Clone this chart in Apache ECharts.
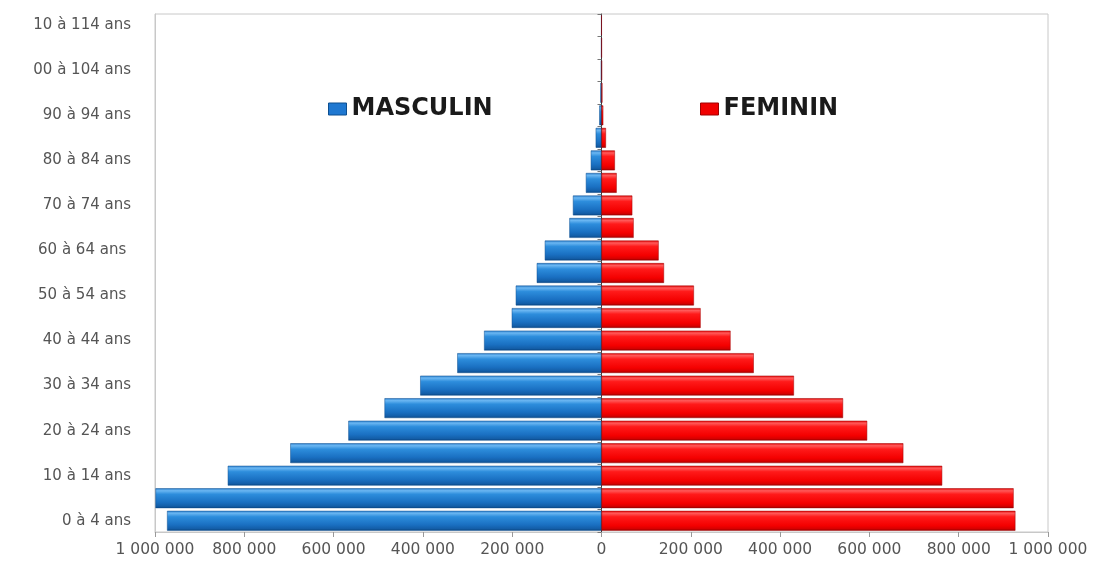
<!DOCTYPE html>
<html>
<head>
<meta charset="utf-8">
<script src="https://cdn.jsdelivr.net/npm/echarts@6/dist/echarts.min.js"></script>
<style>
html,body{margin:0;padding:0;background:#fff;}
#chart{width:1102px;height:563px;}
</style>
</head>
<body>
<div id="chart"></div>
<script>
const categories = [
  "0 à 4 ans", "5 à 9 ans", "10 à 14 ans", "15 à 19 ans", "20 à 24 ans",
  "25 à 29 ans", "30 à 34 ans", "35 à 39 ans", "40 à 44 ans", "45 à 49 ans",
  "50 à 54 ans ", "55 à 59 ans", "60 à 64 ans ", "65 à 69 ans", "70 à 74 ans",
  "75 à 79 ans", "80 à 84 ans", "85 à 89 ans", "90 à 94 ans", "95 à 99 ans",
  "00 à 104 ans", "05 à 109 ans", "10 à 114 ans"
];
const masculin = [973000, 999000, 837000, 697000, 567000, 486000, 406000, 323000, 263000, 201000,
  192000, 145000, 127000, 72000, 64000, 35000, 24000, 13000, 5000, 2500, 1200, 600, 300];
const feminin = [927000, 923000, 763000, 676000, 595000, 541000, 431000, 341000, 289000, 222000,
  207000, 140000, 128000, 72000, 69000, 34000, 30000, 10000, 4000, 2000, 1000, 500, 200];
const seriesNames = ["MASCULIN", "FEMININ"];

const fmt = v => Math.abs(v).toString().replace(/\B(?=(\d{3})+(?!\d))/g, ' ');

const blueGrad = new echarts.graphic.LinearGradient(0, 0, 0, 1, [
  {offset: 0, color: '#2c7fcc'},
  {offset: 0.12, color: '#6ab6f2'},
  {offset: 0.3, color: '#2d8ddc'},
  {offset: 0.7, color: '#1a70c2'},
  {offset: 0.9, color: '#135ea8'},
  {offset: 1, color: '#0b4682'}
]);
const redGrad = new echarts.graphic.LinearGradient(0, 0, 0, 1, [
  {offset: 0, color: '#e00000'},
  {offset: 0.12, color: '#ff5a5a'},
  {offset: 0.3, color: '#ff1a1a'},
  {offset: 0.75, color: '#f40000'},
  {offset: 0.9, color: '#d80000'},
  {offset: 1, color: '#990000'}
]);

const legendText = {fontFamily: 'DejaVu Sans', fontWeight: 'bold', fontSize: 24, color: '#1a1a1a'};

const chart = echarts.init(document.getElementById('chart'), null, {renderer: 'canvas'});
chart.setOption({
  animation: false,
  backgroundColor: '#ffffff',
  legend: [
    {data: [{name: seriesNames[0], icon: 'rect', itemStyle: {color: '#1f78d1', borderColor: '#0d4f90', borderWidth: 1}}],
     left: 328, top: 97, padding: 0, itemWidth: 18, itemHeight: 12, textStyle: legendText},
    {data: [{name: seriesNames[1], icon: 'rect', itemStyle: {color: '#f00000', borderColor: '#a00000', borderWidth: 1}}],
     left: 700, top: 97, padding: 0, itemWidth: 18, itemHeight: 12, textStyle: legendText}
  ],
  grid: {left: 155, right: 54, top: 14, bottom: 31, show: true, borderColor: '#c8c8c8', borderWidth: 1},
  xAxis: {
    type: 'value', min: -1000000, max: 1000000, interval: 200000,
    splitLine: {show: false},
    axisLine: {show: true, onZero: false, lineStyle: {color: '#c8c8c8'}},
    axisTick: {show: true, length: 5, lineStyle: {color: '#999'}},
    axisLabel: {formatter: fmt, color: '#555', fontFamily: 'DejaVu Sans', fontSize: 15.5, margin: 10}
  },
  yAxis: [
    {
      type: 'category', data: categories,
      axisLine: {show: true, onZero: false, lineStyle: {color: '#c8c8c8'}},
      axisTick: {show: false},
      axisLabel: {interval: 1, margin: 24, color: '#555', fontFamily: 'DejaVu Sans', fontSize: 15}
    },
    {
      type: 'category', data: categories, position: 'left',
      axisLine: {show: true, onZero: true, lineStyle: {color: '#3a3a3a', width: 1}},
      axisTick: {show: true, length: 4, lineStyle: {color: '#777'}},
      axisLabel: {show: false},
      splitLine: {show: false}
    }
  ],
  series: [
    {name: seriesNames[0], type: 'bar', yAxisIndex: 0, data: masculin.map(v => -v),
     barGap: '-100%', barCategoryGap: '12%',
     itemStyle: {color: blueGrad, borderColor: '#0d4f90', borderWidth: 0.5}},
    {name: seriesNames[1], type: 'bar', yAxisIndex: 0, data: feminin,
     barGap: '-100%', barCategoryGap: '12%',
     itemStyle: {color: redGrad, borderColor: '#a00000', borderWidth: 0.5}}
  ]
});
</script>
</body>
</html>
